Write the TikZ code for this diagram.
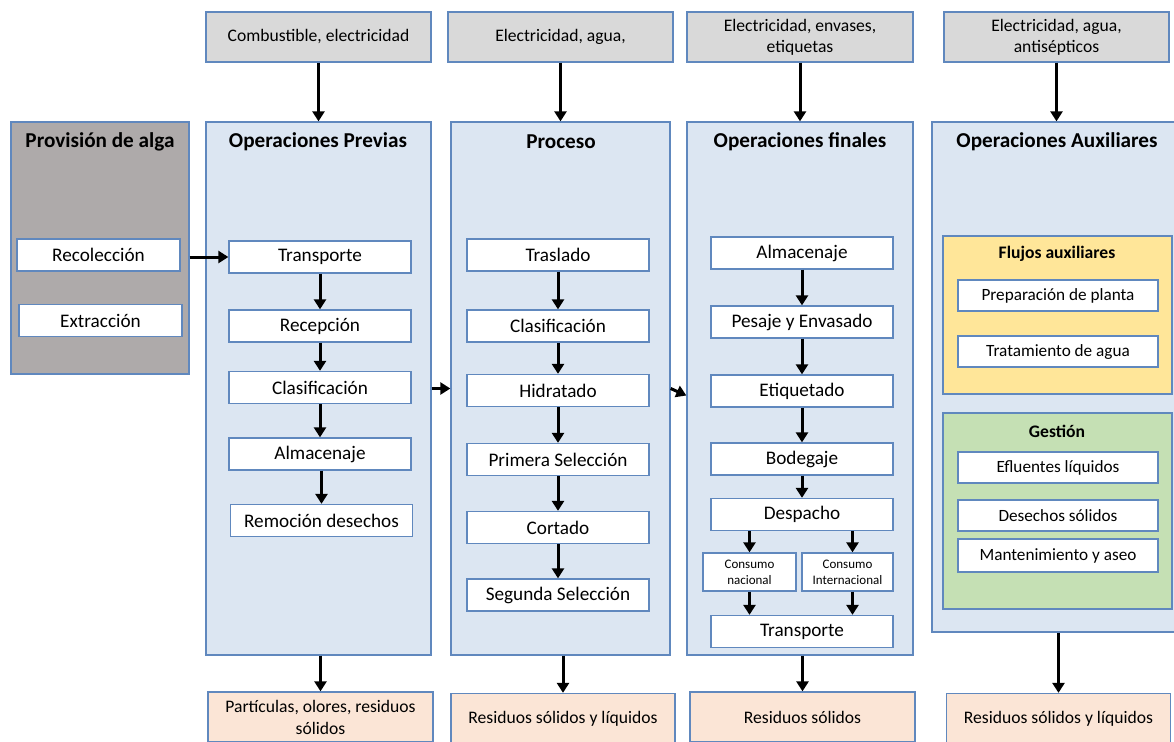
\documentclass[tikz,border=0pt]{standalone}
\usepackage{fontspec}
\setmainfont{Carlito}
\usepackage{tikz}
\usetikzlibrary{arrows.meta}
\usepackage{xcolor}
\definecolor{borde}{RGB}{96,136,190}
\definecolor{azulclaro}{RGB}{220,230,242}
\definecolor{grisclaro}{RGB}{217,217,217}
\definecolor{grisoscuro}{RGB}{174,170,170}
\definecolor{durazno}{RGB}{251,229,214}
\definecolor{amarillo}{RGB}{255,230,153}
\definecolor{verde}{RGB}{197,224,180}

\begin{document}
\begin{tikzpicture}[x=0.5pt, y=-0.5pt, >={Triangle[width=6pt,length=5pt]},
  caja/.style={draw=borde, line width=0.65pt, inner sep=0pt, align=center},
  insumo/.style={caja, fill=grisclaro, minimum width=112.5pt, minimum height=25pt, font=\fontsize{8.8}{10.5}\selectfont},
  residuo/.style={caja, fill=durazno, minimum width=112.5pt, minimum height=25pt, font=\fontsize{8.8}{11}\selectfont},
  etapa/.style={caja, fill=azulclaro, minimum height=266.5pt},
  paso/.style={caja, fill=white, minimum width=91pt, minimum height=16pt, font=\fontsize{9.6}{11}\selectfont},
  pasoaux/.style={paso, minimum width=100pt, minimum height=15.5pt, font=\fontsize{8.6}{10}\selectfont},
  consumo/.style={paso, minimum height=19pt, font=\fontsize{6.5}{8}\selectfont},
  titulo/.style={font=\bfseries\fontsize{10.6}{12}\selectfont},
  subtitulo/.style={font=\bfseries\fontsize{8.8}{10}\selectfont},
  flujo/.style={->, line width=1.5pt}]
\useasboundingbox (0,0) rectangle (1174,741);
\clip (0,0) rectangle (1174,741);
% insumos
\node[insumo] (in1) at (318.5,37) {Combustible, electricidad};
\node[insumo] (in2) at (560.5,37) {Electricidad, agua,};
\node[insumo, minimum width=113pt] (in3) at (800,37) {Electricidad, envases,\\ etiquetas};
\node[insumo] (in4) at (1056.5,37) {Electricidad, agua,\\ antisépticos};
% etapas
\node[etapa, fill=grisoscuro, minimum width=89pt, minimum height=126pt] (prov) at (100,248) {};
\node[etapa, minimum width=112.5pt] (prev) at (318.5,388.5) {};
\node[etapa, minimum width=109.5pt] (proc) at (560.5,388.5) {};
\node[etapa, minimum width=113pt] (fin) at (800,388.5) {};
\node[etapa, minimum width=124pt, minimum height=255pt] (aux) at (1056,377) {};
\node[titulo] (tprov) at (100,142) {Provisión de alga};
\node[titulo] (tprev) at (318,142) {Operaciones Previas};
\node[titulo] (tproc) at (561,142) {Proceso};
\node[titulo] (tfin) at (800,142) {Operaciones finales};
\node[titulo] (taux) at (1057,142) {Operaciones Auxiliares};
% provision de alga
\node[paso, minimum width=81.5pt] (recol) at (98.5,255) {Recolección};
\node[paso, minimum width=81.5pt] (extr) at (100.5,320.5) {Extracción};
% operaciones previas
\node[paso] (transp1) at (320,257) {Transporte};
\node[paso] (recep) at (320,326) {Recepción};
\node[paso] (clas1) at (320,387.5) {Clasificación};
\node[paso] (alm1) at (320,454) {Almacenaje};
\node[paso] (remoc) at (321.5,520.5) {Remoción desechos};
% proceso
\node[paso] (trasl) at (558,255) {Traslado};
\node[paso] (clas2) at (558,326) {Clasificación};
\node[paso] (hidr) at (558,390.5) {Hidratado};
\node[paso] (sel1) at (558,459.5) {Primera Selección};
\node[paso] (cort) at (558,527.5) {Cortado};
\node[paso] (sel2) at (558,595) {Segunda Selección};
% operaciones finales
\node[paso] (alm2) at (802,253) {Almacenaje};
\node[paso] (pesaje) at (802,322) {Pesaje y Envasado};
\node[paso] (etiq) at (802,391) {Etiquetado};
\node[paso] (bodeg) at (802,459) {Bodegaje};
\node[paso] (desp) at (802,514.5) {Despacho};
\node[consumo, minimum width=46.5pt] (cnac) at (749.5,572) {Consumo\\ nacional};
\node[consumo, minimum width=45.5pt] (cint) at (847.5,572) {Consumo\\ Internacional};
\node[paso] (transp2) at (802,631.5) {Transporte};
% operaciones auxiliares
\node[caja, fill=amarillo, minimum width=114.5pt, minimum height=79pt] (flujos) at (1057.5,315) {};
\node[subtitulo] (tflujos) at (1057,254) {Flujos auxiliares};
\node[pasoaux] (prep) at (1058,295.5) {Preparación de planta};
\node[pasoaux] (trat) at (1058,351.5) {Tratamiento de agua};
\node[caja, fill=verde, minimum width=114.5pt, minimum height=98pt] (gest) at (1057.5,511) {};
\node[subtitulo] (tgest) at (1057,431) {Gestión};
\node[pasoaux] (eflu) at (1058,467.5) {Efluentes líquidos};
\node[pasoaux] (desech) at (1058,515.5) {Desechos sólidos};
\node[pasoaux, minimum height=16.5pt] (mant) at (1058,555.5) {Mantenimiento y aseo};
% residuos
\node[residuo] (res1) at (320.5,717) {Partículas, olores, residuos\\ sólidos};
\node[residuo, minimum width=112pt] (res2) at (563,718.5) {Residuos sólidos y líquidos};
\node[residuo] (res3) at (802.5,717) {Residuos sólidos};
\node[residuo, minimum width=112pt] (res4) at (1058.5,718.5) {Residuos sólidos y líquidos};
% flechas
\foreach \i/\e in {in1/prev, in2/proc, in3/fin, in4/aux}
  \draw[flujo] (\i) -- (\i |- \e.north);
\foreach \e/\r in {prev/res1, proc/res2, fin/res3, aux/res4}
  \draw[flujo] (\e.south -| \r) -- (\r.north);
\foreach \a/\b in {transp1/recep, recep/clas1, clas1/alm1,
  trasl/clas2, clas2/hidr, hidr/sel1, sel1/cort, cort/sel2,
  alm2/pesaje, pesaje/etiq, etiq/bodeg, bodeg/desp}
  \draw[flujo] (\a) -- (\b);
\draw[flujo] (alm1.south -| remoc) -- (remoc);
\draw[flujo] (desp.south -| cnac) -- (cnac);
\draw[flujo] ([xshift=2.5pt]cint.north |- desp.south) -- ([xshift=2.5pt]cint.north);
\draw[flujo] (cnac) -- (cnac |- transp2.north);
\draw[flujo] ([xshift=2.5pt]cint.south) -- ([xshift=2.5pt]cint.south |- transp2.north);
\draw[flujo] (prov.east |- transp1) -- (transp1);
\draw[flujo] (prev) -- (proc);
\draw[flujo] (proc.east) -- ([yshift=-3.5pt]fin.west);
\end{tikzpicture}
\end{document}
